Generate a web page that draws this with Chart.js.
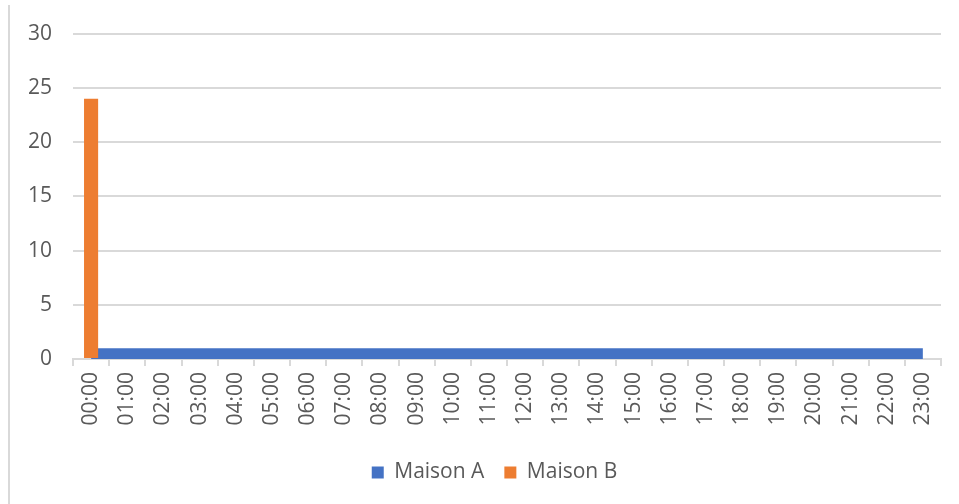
<!DOCTYPE html>
<html>
<head>
<meta charset="utf-8">
<script src="https://cdn.jsdelivr.net/npm/chart.js@4"></script>
<style>
  html, body { margin: 0; padding: 0; background: #fff; }
  #wrap { position: relative; width: 959px; height: 504px; }
  #frame { position: absolute; left: 8px; top: 5px; width: 2px; height: 499px; background: #d9d9d9; }
  canvas { position: absolute; left: 0; top: 0; }
</style>
</head>
<body>
<div id="wrap">
  <div id="frame"></div>
  <canvas id="graf" width="959" height="504"></canvas>
</div>
<script>
const heures = [
  '00:00', '01:00', '02:00', '03:00', '04:00', '05:00', '06:00', '07:00',
  '08:00', '09:00', '10:00', '11:00', '12:00', '13:00', '14:00', '15:00',
  '16:00', '17:00', '18:00', '19:00', '20:00', '21:00', '22:00', '23:00'
];
// Maison A : 1 partout
const maisonA = [1, 1, 1, 1, 1, 1, 1, 1, 1, 1, 1, 1, 1, 1, 1, 1, 1, 1, 1, 1, 1, 1, 1, 1];
// Maison B : tout a 00:00
const maisonB = [24, 0, 0, 0, 0, 0, 0, 0, 0, 0, 0, 0, 0, 0, 0, 0, 0, 0, 0, 0, 0, 0, 0, 0];
const ticksY = [0, 5, 10, 15, 20, 25, 30];

const gris = '#595959';
const grille = '#d9d9d9';
Chart.defaults.font.family = '"Open Sans", "Noto Sans", sans-serif';
Chart.defaults.font.size = 21;
Chart.defaults.color = gris;

// decale la legende un peu vers la droite comme dans Excel
const decalLegende = {
  id: 'decalLegende',
  afterLayout(chart) {
    chart.legend.left += 24;
    chart.legend.right += 24;
  }
};

const data = {
  labels: heures,
  datasets: [{
    type: 'line',
    label: 'Maison A',
    data: maisonA,
    backgroundColor: '#4472c4',
    borderColor: '#4472c4',
    borderWidth: 0,
    pointRadius: 0,
    fill: 'origin',
    order: 2
  }, {
    type: 'bar',
    label: 'Maison B',
    data: maisonB,
    backgroundColor: '#ed7d31',
    categoryPercentage: 1,
    barPercentage: 0.39,
    order: 1
  }]
};

const config = {
  type: 'bar',
  data: data,
  plugins: [decalLegende],
  options: {
    responsive: false,
    animation: false,
    layout: {
      padding: { top: 27, right: 18, left: 0, bottom: 11 }
    },
    plugins: {
      legend: {
        position: 'bottom',
        labels: {
          boxWidth: 12,
          boxHeight: 12,
          padding: 20,
          color: gris,
          sort: (a, b) => a.datasetIndex - b.datasetIndex
        }
      },
      tooltip: { enabled: false }
    },
    scales: {
      x: {
        offset: true,
        grid: {
          offset: true,
          drawOnChartArea: false,
          drawTicks: true,
          tickLength: 7,
          color: grille,
          lineWidth: 2
        },
        border: { color: grille, width: 2 },
        ticks: {
          minRotation: 90,
          maxRotation: 90,
          autoSkip: false,
          padding: 6,
          color: gris
        },
        afterFit: function(scale) {
          scale.height = 83;
        }
      },
      y: {
        min: 0,
        max: 30,
        afterBuildTicks: function(scale) {
          scale.ticks = ticksY.map(v => ({ value: v }));
        },
        grid: {
          color: grille,
          lineWidth: 2,
          drawTicks: false
        },
        border: { display: false },
        ticks: {
          padding: 21,
          color: gris
        },
        afterFit: function(scale) {
          scale.width = 73;
        }
      }
    }
  }
};

const graf = new Chart(document.getElementById('graf'), config);
</script>
</body>
</html>
